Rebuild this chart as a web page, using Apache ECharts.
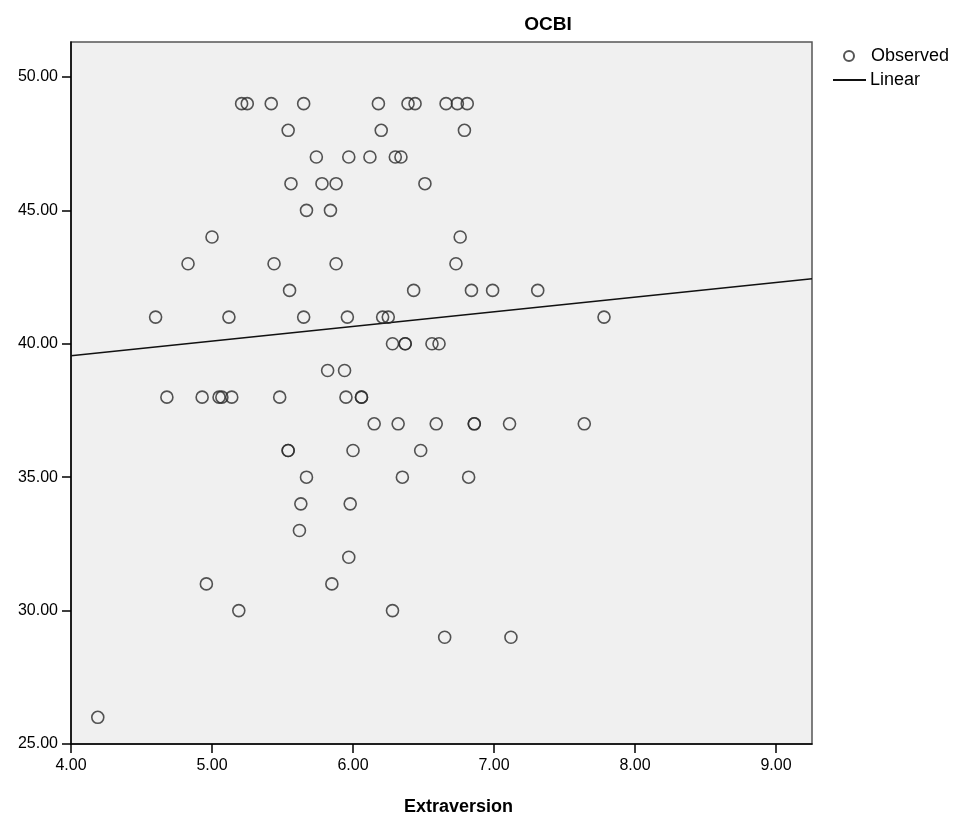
<!DOCTYPE html>
<html lang="en">
<head>
    <meta charset="UTF-8">
    <title>OCBI by Extraversion</title>
    <script src="https://cdn.jsdelivr.net/npm/echarts@6/dist/echarts.min.js"></script>
    <style>
        html, body { margin: 0; padding: 0; background: #fff; }
    </style>
</head>
<body>
    <div id="main" style="width:957px;height:821px;"></div>
    <script type="text/javascript">
        // observed cases
        var extraversion = [
            5.21, 5.25, 5.42, 5.65, 6.18, 6.39, 6.44, 6.66, 6.74, 6.81,
            5.54, 6.20, 6.79,
            5.74, 5.97, 6.12, 6.30, 6.34,
            5.56, 5.78, 5.88, 6.51,
            5.67, 5.84,
            5.00, 6.76,
            4.83, 5.44, 5.88, 6.73,
            5.55, 6.43, 6.84, 6.99, 7.31,
            4.60, 5.12, 5.65, 5.96, 6.21, 6.25, 7.78,
            6.28, 6.37, 6.37, 6.56, 6.61,
            5.82, 5.94,
            4.68, 4.93, 5.05, 5.07, 5.14, 5.48, 5.95, 6.06, 6.06,
            6.15, 6.32, 6.59, 6.86, 6.86, 7.11, 7.64,
            5.54, 5.54, 6.00, 6.48,
            5.67, 6.35, 6.82,
            5.63, 5.98,
            5.62,
            5.97,
            4.96, 5.85,
            5.19, 6.28,
            6.65, 7.12,
            4.19
        ];
        var ocbi = [
            49, 49, 49, 49, 49, 49, 49, 49, 49, 49,
            48, 48, 48,
            47, 47, 47, 47, 47,
            46, 46, 46, 46,
            45, 45,
            44, 44,
            43, 43, 43, 43,
            42, 42, 42, 42, 42,
            41, 41, 41, 41, 41, 41, 41,
            40, 40, 40, 40, 40,
            39, 39,
            38, 38, 38, 38, 38, 38, 38, 38, 38,
            37, 37, 37, 37, 37, 37, 37,
            36, 36, 36, 36,
            35, 35, 35,
            34, 34,
            33,
            32,
            31, 31,
            30, 30,
            29, 29,
            26
        ];

        // fitted line, ends read at the plot edges
        var fitX = [4.00, 9.255];
        var fitY = [39.55, 42.44];

        var xTicks = [4, 5, 6, 7, 8, 9];
        var yTicks = [25, 30, 35, 40, 45, 50];

        var observed = extraversion.map(function (x, i) { return [x, ocbi[i]]; });
        var linear = fitX.map(function (x, i) { return [x, fitY[i]]; });

        var font = "'Liberation Sans', Arial, sans-serif";
        var myChart = echarts.init(document.getElementById('main'));
        var option = {
            animation: false,
            title: {
                text: 'OCBI',
                left: 543,
                top: 10,
                textAlign: 'center',
                textStyle: { fontFamily: font, fontSize: 19, fontWeight: 'bold', color: '#000' }
            },
            legend: [{
                data: [{ name: 'Observed', icon: 'circle' }],
                orient: 'vertical',
                left: 843,
                top: 47,
                padding: 0,
                itemWidth: 10,
                itemHeight: 10,
                textStyle: { fontFamily: font, fontSize: 18, color: '#000', padding: [0, 0, 0, 12] }
            }, {
                data: [{ name: 'Linear', icon: 'rect' }],
                orient: 'vertical',
                left: 833,
                top: 71,
                padding: 0,
                itemWidth: 33,
                itemHeight: 2,
                textStyle: { fontFamily: font, fontSize: 18, color: '#000', padding: [0, 0, 0, -1] }
            }],
            grid: {
                left: 71,
                right: 145,
                top: 42,
                bottom: 76,
                show: true,
                backgroundColor: '#f0f0f0',
                borderColor: '#555',
                borderWidth: 1.5
            },
            xAxis: {
                type: 'value',
                min: 4,
                max: 9.255,
                name: 'Extraversion',
                nameLocation: 'middle',
                nameGap: 54,
                nameTextStyle: { fontFamily: font, fontSize: 18, fontWeight: 'bold', color: '#000', padding: [0, 0, 0, 34] },
                axisLine: { show: true, lineStyle: { color: '#000', width: 1.5 } },
                axisTick: { show: true, inside: false, length: 9, customValues: xTicks, lineStyle: { color: '#000', width: 1.5 } },
                axisLabel: {
                    customValues: xTicks,
                    margin: 14,
                    fontFamily: font,
                    fontSize: 16,
                    color: '#000',
                    formatter: function (v) { return v.toFixed(2); }
                },
                splitLine: { show: false }
            },
            yAxis: {
                type: 'value',
                min: 25,
                max: 51.31,
                axisLine: { show: true, lineStyle: { color: '#000', width: 1.5 } },
                axisTick: { show: true, inside: false, length: 9, customValues: yTicks, lineStyle: { color: '#000', width: 1.5 } },
                axisLabel: {
                    customValues: yTicks,
                    margin: 13,
                    fontFamily: font,
                    fontSize: 16,
                    color: '#000',
                    formatter: function (v) { return v.toFixed(2); }
                },
                splitLine: { show: false }
            },
            series: [{
                name: 'Observed',
                type: 'scatter',
                data: observed,
                symbol: 'circle',
                symbolSize: 12,
                itemStyle: { color: 'rgba(0,0,0,0)', borderColor: '#2a2a2a', borderWidth: 1.6 },
                z: 3
            }, {
                name: 'Linear',
                type: 'line',
                data: linear,
                symbol: 'none',
                lineStyle: { color: '#111', width: 1.5 },
                itemStyle: { color: '#111' },
                z: 2
            }]
        };

        myChart.setOption(option);
    </script>
</body>
</html>
